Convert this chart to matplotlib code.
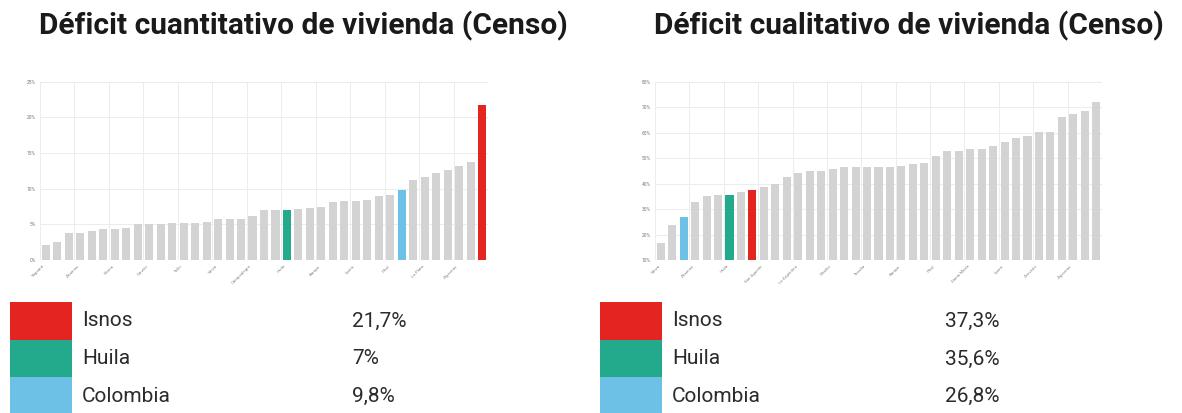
import matplotlib.pyplot as plt
from matplotlib.patches import Rectangle

# deficit cuantitativo (% of households), sorted ascending
cuant_names = ['Yaguará', 'Aipe', 'Villavieja', 'Altamira', 'Palermo', 'Hobo', 'Rivera', 'Gigante',
               'Agrado', 'Garzón', 'Tesalia', 'Teruel', 'Tello', 'Paicol', 'Timaná', 'Neiva',
               'Nátaga', 'Guadalupe', 'Campoalegre', 'Elías', 'Tarqui', 'Huila', 'Suaza',
               'Santa María', 'Baraya', 'Pitalito', 'Oporapa', 'Íquira', 'Palestina', 'La Argentina',
               'Pital', 'Colombia', 'San Agustín', 'La Plata', 'Saladoblanco', 'Acevedo', 'Algeciras',
               'Colombia (mpio.)', 'Isnos']
cuant_values = [2.1, 2.5, 3.75, 3.85, 4.1, 4.3, 4.3, 4.5, 5.0, 5.0, 5.0, 5.15, 5.2, 5.2, 5.3, 5.7,
                5.7, 5.7, 6.15, 6.95, 6.95, 7.0, 7.1, 7.35, 7.4, 8.1, 8.25, 8.3, 8.35, 8.95,
                9.05, 9.8, 11.2, 11.65, 12.2, 12.6, 13.2, 13.7, 21.7]

# deficit cualitativo
cual_names = ['Neiva', 'Yaguará', 'Colombia', 'Altamira', 'Rivera', 'Campoalegre', 'Huila', 'Garzón',
              'Isnos', 'San Agustín', 'Aipe', 'Palermo', 'La Argentina', 'Gigante', 'Hobo', 'Pitalito',
              'Tello', 'Villavieja', 'Tesalia', 'Agrado', 'Teruel', 'Baraya', 'Timaná', 'Paicol',
              'Pital', 'Guadalupe', 'Nátaga', 'Santa María', 'Elías', 'Tarqui', 'Íquira', 'Suaza',
              'La Plata', 'Acevedo', 'Oporapa', 'Palestina', 'Algeciras', 'Saladoblanco',
              'Colombia (mpio.)']
cual_values = [16.8, 23.6, 26.8, 32.6, 35.3, 35.5, 35.6, 36.7, 37.3, 38.8, 39.8, 42.5, 44.0, 45.0,
               45.1, 45.6, 46.4, 46.4, 46.4, 46.5, 46.5, 46.9, 47.7, 48.0, 51.0, 52.9, 52.9, 53.5,
               53.7, 54.8, 56.5, 57.8, 58.6, 60.1, 60.1, 66.3, 67.2, 68.5, 71.9]

highlight = ['Isnos', 'Huila', 'Colombia']
highlight_colors = {'Isnos': '#E32420', 'Huila': '#23A98C', 'Colombia': '#6EC1E6'}
GREY = '#D3D3D3'

W, H = 1182, 413
fig = plt.figure(figsize=(W / 100, H / 100), dpi=100)
plt.rcParams['font.family'] = ['Roboto', 'DejaVu Sans']


def px_axes(x0, y0, x1, y1):
    # axes from pixel box (y measured from top)
    return fig.add_axes([x0 / W, 1 - y1 / H, (x1 - x0) / W, (y1 - y0) / H])


def bar_panel(ax, names, values, ymin, ymax, ystep):
    colors = [highlight_colors.get(n, GREY) for n in names]
    xs = list(range(len(names)))
    ax.bar(xs, [v - ymin for v in values], bottom=ymin, width=0.7, color=colors, zorder=3)
    ax.set_xlim(-0.5, len(names) - 0.5)
    ax.set_ylim(ymin, ymax)
    for s in ax.spines.values():
        s.set_visible(False)
    yt = list(range(ymin, ymax + 1, ystep))
    ax.set_yticks(yt)
    ax.set_yticklabels([f'{t}%' for t in yt], fontsize=3.5, color='#777777')
    ax.set_xticks(xs[::3])
    ax.set_xticklabels(names[::3], rotation=45, ha='right', fontsize=3.2, color='#888888')
    ax.tick_params(length=0, pad=3)
    for t in yt:
        ax.axhline(t, color='#ECECEC', lw=0.7, zorder=1)
    for k in range(0, len(names) + 1, 3):
        ax.axvline(k - 0.5, color='#ECECEC', lw=0.7, zorder=1)


ax1 = px_axes(40, 81.7, 488, 260)
bar_panel(ax1, cuant_names, cuant_values, 0, 25, 5)
ax2 = px_axes(655, 81.7, 1102, 260)
bar_panel(ax2, cual_names, cual_values, 10, 80, 10)

fig.text(303 / W, 1 - 26 / H, 'Déficit cuantitativo de vivienda (Censo)', fontsize=21.5,
         fontweight='bold', color='#1a1a1a', ha='center', va='center')
fig.text(909 / W, 1 - 26 / H, 'Déficit cualitativo de vivienda (Censo)', fontsize=21.5,
         fontweight='bold', color='#1a1a1a', ha='center', va='center')

# legend tables below each chart
over = fig.add_axes([0, 0, 1, 1])
over.set_xlim(0, W)
over.set_ylim(H, 0)
over.axis('off')


def fmt(v):
    return f'{v:g}'.replace('.', ',') + '%'


rows_y = [302, 340, 377]
for x0, x_val, names, values in [(10, 352, cuant_names, cuant_values),
                                 (600, 945, cual_names, cual_values)]:
    for i, n in enumerate(highlight):
        y = rows_y[i]
        over.add_patch(Rectangle((x0, y), 62, 38, color=highlight_colors[n], lw=0))
        over.text(x0 + 72, y + 19, n, fontsize=15, color='#2b2b2b', va='center')
        over.text(x_val, y + 19, fmt(values[names.index(n)]), fontsize=15, color='#2b2b2b',
                  va='center')

fig.savefig('out.png', dpi=100)
